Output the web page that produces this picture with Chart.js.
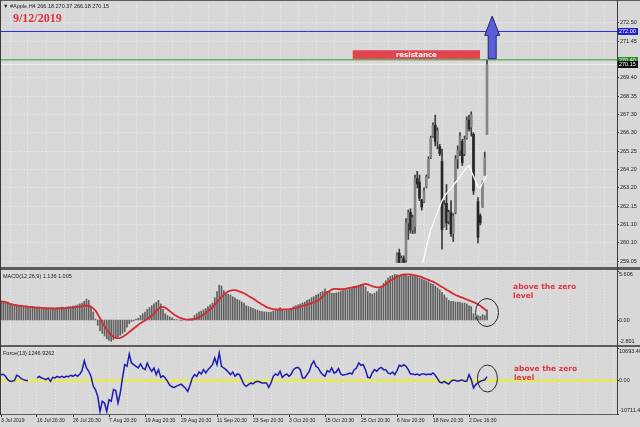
<!DOCTYPE html>
<html>
<head>
<meta charset="utf-8">
<script src="https://cdn.jsdelivr.net/npm/chart.js@4.4.1/dist/chart.umd.min.js"></script>
<style>
  html, body { margin:0; padding:0; width:640px; height:427px; overflow:hidden; background:#d8d8d8; }
  canvas { position:absolute; left:0; }
  .hb { position:absolute; left:0; width:640px; background:#5c5c5c; }
  .vl { position:absolute; width:1px; background:#3a3a3a; }
</style>
</head>
<body>
<canvas id="cMain" width="640" height="267" style="top:0px"></canvas>
<canvas id="cMacd" width="640" height="75" style="top:270px"></canvas>
<canvas id="cForce" width="640" height="80" style="top:347px"></canvas>
<div class="hb" style="top:0px;height:1px"></div>
<div class="hb" style="top:267px;height:3px"></div>
<div class="hb" style="top:345px;height:2px"></div>
<div class="hb" style="top:414px;height:1px;width:618px"></div>
<div class="vl" style="left:0px;top:0px;height:415px"></div>
<div class="vl" style="left:617px;top:0px;height:415px"></div>
<script>
// ================= DATA =================
const dateLabels = ['3 Jul 2019','16 Jul 20:30','26 Jul 20:30','7 Aug 20:30','19 Aug 20:30','29 Aug 20:30',
  '11 Sep 20:30','23 Sep 20:30','3 Oct 20:30','15 Oct 20:30','25 Oct 20:30','6 Nov 20:30','18 Nov 20:30','2 Dec 16:30'];
const barsPerLabel = 16;
const priceTicks = [259.05, 260.10, 261.10, 262.15, 263.20, 264.20, 265.25, 266.30, 267.30, 268.35, 269.40, 270.40, 271.45, 272.50];

const macdHist = [2.1,2.1,2.0,2.0, 1.8,1.75,1.7,1.7,1.65, 1.6,1.55,1.55,1.5,1.5,1.5,1.45,1.45,1.45,
  1.4,1.4,1.4,1.35,1.4,1.4,1.35,1.4,1.4,1.45,1.4,1.45, 1.5,1.5,1.55,1.6,1.7,1.8,1.9, 2.1,2.35,2.2, 1.5,0.9, 0.1,
  -0.6,-1.2,-1.5,-1.8,-2.1,-2.3,-2.4, -2.2,-2.0,-1.9,-1.7,-1.5,-1.3, -0.8,-0.4,-0.15, -0.1,0.1,0.2, 0.5,0.7,0.9,
  1.2,1.4,1.6,1.8,2.0,2.2, 1.8,1.2,0.7,0.5,0.35,0.25, 0.1,0.05,0.0,-0.05,0.0,0.05,0.1,0.15,0.2, 0.5,0.7,0.9,
  1.0,1.15,1.3,1.5,1.7,1.9, 2.5,3.2, 3.9,3.8, 3.3,3.0,2.9,2.8, 2.6,2.5,2.3,2.2,2.0,1.9, 1.6,1.5,1.4,1.3,1.2,1.1,
  1.0,0.95,0.9,0.9,0.85,0.9, 1.0,1.1,1.2,1.4,1.1,1.0,1.1,1.2,1.3, 1.5,1.6,1.7,1.8,1.9,2.0,
  2.2,2.3,2.5,2.6,2.8,2.9,3.1,3.2,3.5, 3.2,3.1,3.0,3.0,3.05,3.1, 3.2,3.3,3.35,3.4,3.5,3.6, 3.7,3.8,3.9,4.0,3.9,3.7,
  3.2,3.0,2.9,3.0,3.2, 3.5,3.8,4.1,4.4, 4.7,4.9,5.0, 5.1,5.1,5.0,5.1,5.0,5.0,4.9,5.0,4.9,4.9,4.8,
  4.7,4.6,4.5,4.4,4.3, 4.1,4.0,3.8,3.6,3.4, 3.1,2.8,2.5,2.2, 2.1,2.1,2.0,2.0,2.0,1.9, 1.9,1.8,1.6,1.5,
  0.7,0.3,0.5, 0.4,0.6,0.5,1.136];

const macdSignal = [2.1,2.05,2.0,1.9,1.8,1.75, 1.7,1.65,1.6,1.58,1.55,1.53,1.5,
  1.48,1.45,1.42,1.4,1.38,1.35,1.33,1.3,1.3,1.28, 1.28,1.28,1.3,1.3,1.32,1.33,1.35,1.35,1.38,1.4,1.45,
  1.48,1.5,1.55,1.6,1.62,1.6,
  1.5,1.3,1.05,0.65,0.2,-0.25,-0.7,-1.1,-1.4,-1.7,-1.9,-2.0,-2.05,-2.0,-1.9,-1.75,-1.55,-1.35,-1.15,-0.95,
  -0.75,-0.55,-0.35,-0.2,-0.05,0.1,0.3,0.5,0.75,1.0,
  1.25,1.42,1.48,1.4,1.2,1.0,0.8,0.6,0.45,0.3,0.2,0.12,0.06,0.04,0.04,0.05,
  0.1,0.18,0.3,0.45,0.6,0.8,1.0,1.2,1.45,1.7,2.0,2.3,2.6,2.85,3.05,3.2,3.3,3.35,3.35,3.3,3.2,3.1,3.0,2.85,
  2.7,2.55,2.4,2.25,2.05,1.9,1.75,1.6,1.45,1.35,1.27,
  1.22,1.2,1.18,1.18,1.18,1.18,1.2,1.22,1.25,1.3,1.35,1.42,1.5,1.58,1.65,1.72,1.8,
  1.9,2.0,2.1,2.2,2.4,2.65,2.9,3.1,3.25,3.4,3.5,3.5,3.45,3.45,3.45,3.5,3.55,3.6,3.65,3.7,3.75,3.8,3.9,4.0,
  4.05,4.0,3.9,3.8,3.7,3.65,3.65,3.7,3.85,4.0,4.2,4.4,4.55,4.7,4.85,4.95,5.05,5.1,5.12,5.12,5.1,5.05,5.0,
  4.95,4.88,4.8,4.7,4.6,4.5,4.4,4.3,4.15,4.0,3.85,3.7,3.55,3.4,3.25,3.1,2.95,2.8,2.7,2.6,2.5,2.4,2.3,2.2,
  2.1,2.0,1.9,1.75,1.6,1.4,1.2,1.005];

const forceIndex = [1860,2000,1330,270,-270,-270,0,1650,1330,600,270,0,0,
  null,null,null,
  800,1330,800,600,270,800,-270,1000,800,1330,1000,1330,1000,1330,1200,1650,1330,1860,1330,2000,
  3100,6300,3990,2930,1330,-1860,-2930,-5060,-9900,-6650,-7190,-9900,-6120,-6650,-2930,-3250,-7190,-4000,
  800,5060,4530,8460,5600,5060,4530,3990,5270,3990,3460,5600,3990,2930,3990,1860,3460,1000,1500,
  800,-270,-1500,-2000,-2200,-1800,-1500,-1200,-1800,-2500,-3500,-1500,
  800,1860,1330,2700,2080,3460,2400,3460,4200,5060,7190,5060,8780,4530,3990,3460,2700,1860,2700,1330,2080,
  1860,270,-1330,-1860,-1330,-800,-1120,-500,-270,-500,-800,-800,-800,-2200,-800,1330,2080,1650,2930,1000,
  1650,2080,1330,2080,3460,3990,4200,3460,800,800,1860,2930,5060,6200,4530,3990,2700,1860,
  1330,3150,2700,3990,2400,2700,3780,2080,1650,1860,2080,2400,2080,3460,3990,5600,4850,5060,3460,1000,800,
  2400,3460,2930,3780,4200,3460,3460,2400,2080,2700,1860,3150,4850,4530,5060,4530,3460,2080,2080,1860,2080,
  1650,2080,2080,1860,2080,1860,2400,1650,600,-500,-800,-270,-800,-1120,-270,160,0,-270,0,160,-270,-270,
  1860,270,-2400,-1330,-800,-270,0,160,1246.9262];

// candles (the earlier ones lie below the visible price range)
const candleFirstBar = 176;
const candleOpen  = [258.9,259.5,258.9,259.2,259.1,261.2,261.8,260.8,261.0,263.7,263.5,262.5,262.4,263.2,263.8,264.9,266.1,266.7,265.8,265.5,264.66,261.0,262.3,261.3,261.8,260.6,261.8,264.8,265.3,265.8,265.1,266.0,267.0,266.6,266.2,null,262.4,261.6,262.1,263.9,266.18];
const candleHigh  = [259.52,259.72,259.35,259.34,261.44,261.92,261.99,261.64,263.90,264.11,263.90,262.53,263.18,263.90,264.93,266.10,266.85,267.29,266.57,265.64,265.37,262.46,263.36,261.92,262.46,261.71,265.00,265.55,266.30,265.92,266.10,267.19,267.29,267.47,266.30,null,262.63,261.71,263.56,265.20,270.37];
const candleLow   = [258.79,258.79,258.70,258.79,258.97,260.27,260.62,260.60,260.62,263.18,262.46,261.92,262.35,263.18,263.72,264.82,266.03,265.55,265.37,265.00,259.72,260.98,260.82,261.15,260.44,260.16,261.71,264.27,265.00,264.45,265.00,265.92,266.37,266.10,262.81,null,260.07,261.09,262.08,263.90,266.18];
const candleClose = [259.4,258.9,259.2,258.95,261.2,261.8,260.8,261.5,263.7,263.4,262.6,262.1,263.0,263.8,264.8,266.0,266.7,265.8,266.4,265.1,260.82,262.2,261.2,261.8,260.6,261.6,264.8,265.3,266.1,264.6,265.9,267.0,266.5,267.3,263.0,null,260.4,261.2,263.4,264.9,270.15];

const trendFirstBar = 187;
const trendLine = [258.79,259.23,259.78,260.33,260.82,261.09,261.48,261.81,262.13,262.46,262.68,262.85,263.01,263.15,263.32,263.48,263.64,263.83,264.0,264.16,264.33,264.44,264.13,263.83,263.53,263.23,263.18,263.45,263.67,263.89];

const priceLevels = [272.00, 270.40, 270.15];
const forceLevels = [0];
const macdRange = [-2.801, 5.606];
const forceRange = [-10711.4, 10693.40];

const headerText = '\u25BC #Apple,H4 266.18 270.37 266.18 270.15';
const dateTitle = '9/12/2019';
const macdTitle = 'MACD(12,26,9) 1.136 1.005';
const forceTitle = 'Force(13) 1246.9262';
const noteLines = ['above the zero', 'level'];
const resistanceLabel = 'resistance';
const macdAxisLabels = ['5.606', '0.00', '-2.801'];
const forceAxisLabels = ['10693.40', '0.00', '-10711.4'];

// annotation anchors (bar index / value units)
const resistanceZone = { fromBar: 156.3, toBar: 212.9, low: 270.45, high: 270.94 };
const arrowMark = { bar: 218.3, base: 270.46, headBase: 271.78, tip: 272.87 };
const macdCircle = { bar: 216, value: 0.84 };
const forceCircle = { bar: 216.2, value: 630 };
const macdNote = { bar: 227.6, value: 3.64 };
const forceNote = { bar: 228.0, value: 3505 };

// ================= LAYOUT / STYLE =================
const FONT = '"Liberation Sans", Arial, sans-serif';
const PX_PER_BAR = 2.25, PLOT_RIGHT = 617, AXIS_W = 640 - PLOT_RIGHT;
const X_MIN = -1 / PX_PER_BAR, X_MAX = X_MIN + PLOT_RIGHT / PX_PER_BAR;
const P_MIN = 258.957, P_MAX = 273.532;
const GRID = 'rgba(255,255,255,0.55)';
const levelStyles = [
  { line: '#2b2bd0', box: '#2323d0', text: '#ffffff', w: 1 },
  { line: '#2f9a2f', box: '#2c8c2c', text: '#f0fff0', w: 1 },
  { line: 'rgba(250,250,250,0.85)', box: '#0c0c0c', text: '#ffffff', w: 1 }
];

function xScale(showLabels) {
  return {
    type: 'linear', min: X_MIN, max: X_MAX, offset: false,
    afterBuildTicks: s => { const t = []; for (let v = 0; v <= X_MAX; v += barsPerLabel / 2) t.push({ value: v }); s.ticks = t; },
    grid: {
      color: GRID, lineWidth: 1, drawTicks: showLabels, tickLength: 3,
      tickColor: c => (c.tick && c.tick.value % barsPerLabel === 0 && c.tick.value / barsPerLabel < dateLabels.length) ? '#333' : 'rgba(0,0,0,0)'
    },
    border: { display: false, dash: [1, 2] },
    ticks: showLabels ? {
      display: true, autoSkip: false, maxRotation: 0, minRotation: 0, align: 'start', padding: 1,
      font: { family: FONT, size: 5.1 }, color: '#1a1a1a',
      callback: v => (v % barsPerLabel === 0 && v / barsPerLabel < dateLabels.length) ? dateLabels[v / barsPerLabel] : ''
    } : { display: false },
    afterFit: s => { s.height = showLabels ? 13 : 0; }
  };
}
function hiddenY(range) {
  return {
    position: 'right', min: range[0], max: range[1],
    ticks: { display: false }, grid: { display: false }, border: { display: false },
    afterFit: s => { s.width = AXIS_W; }
  };
}
const baseOpts = {
  responsive: false, animation: false, devicePixelRatio: 1, events: [],
  plugins: { legend: { display: false }, tooltip: { enabled: false } }
};

function drawAxisLabels(chart, values, texts) {
  const { ctx, chartArea: ca, scales: { y } } = chart;
  ctx.save();
  ctx.font = '5.5px ' + FONT; ctx.fillStyle = '#1a1a1a'; ctx.textAlign = 'left'; ctx.textBaseline = 'middle';
  ctx.strokeStyle = '#333'; ctx.lineWidth = 1;
  values.forEach((v, k) => {
    let py = y.getPixelForValue(v);
    const dy = k === 0 ? 4 : (k === values.length - 1 ? -4 : 0);
    const tp = Math.round(Math.min(Math.max(py, ca.top + 0.5), ca.bottom - 0.5)) + 0.5;
    ctx.beginPath(); ctx.moveTo(PLOT_RIGHT, tp); ctx.lineTo(PLOT_RIGHT + 2, tp); ctx.stroke();
    ctx.fillText(texts[k], PLOT_RIGHT + 2, py + dy);
  });
  ctx.restore();
}
function drawNote(chart, anchor, circle, rx, ry) {
  const { ctx, scales: { x, y } } = chart;
  ctx.save();
  ctx.beginPath();
  ctx.ellipse(x.getPixelForValue(circle.bar), y.getPixelForValue(circle.value), rx, ry, 0, 0, Math.PI * 2);
  ctx.strokeStyle = '#262626'; ctx.lineWidth = 1; ctx.stroke();
  ctx.font = 'bold 7.5px "DejaVu Sans", sans-serif'; ctx.fillStyle = '#e0343f';
  ctx.textAlign = 'left'; ctx.textBaseline = 'middle';
  const nx = x.getPixelForValue(anchor.bar), ny = y.getPixelForValue(anchor.value);
  ctx.fillText(noteLines[0], nx, ny);
  ctx.fillText(noteLines[1], nx, ny + 8.5);
  ctx.restore();
}

// ================= MAIN PRICE CHART =================
const wickData = [], bodyData = [], bodyColors = [];
candleOpen.forEach((o, k) => {
  if (o == null) return;
  const i = candleFirstBar + k;
  wickData.push({ x: i, y: [candleLow[k], candleHigh[k]] });
  bodyData.push({ x: i, y: [o, candleClose[k]] });
  bodyColors.push(candleClose[k] >= o ? '#858585' : '#262626');
});
const trendData = trendLine.map((v, k) => ({ x: trendFirstBar + k, y: v }));
const levelSets = priceLevels.map((p, k) => ({
  type: 'line', data: [{ x: X_MIN, y: p }, { x: X_MAX, y: p }],
  borderColor: levelStyles[k].line, borderWidth: levelStyles[k].w, pointRadius: 0, order: 10 + k
}));

const mainDeco = {
  id: 'mainDeco',
  afterDatasetsDraw(chart) {
    const { ctx, scales: { x, y } } = chart;
    ctx.save();
    const r = resistanceZone;
    const x0 = x.getPixelForValue(r.fromBar), x1 = x.getPixelForValue(r.toBar);
    const y0 = y.getPixelForValue(r.high), y1 = y.getPixelForValue(r.low);
    ctx.fillStyle = '#e2444f'; ctx.fillRect(x0, y0, x1 - x0, y1 - y0);
    ctx.fillStyle = '#ffffff'; ctx.font = 'bold 7px "DejaVu Sans", sans-serif';
    ctx.textAlign = 'center'; ctx.textBaseline = 'middle';
    ctx.fillText(resistanceLabel, (x0 + x1) / 2, (y0 + y1) / 2 + 0.5);
    const a = arrowMark;
    const ax = x.getPixelForValue(a.bar), yb = y.getPixelForValue(a.base), yh = y.getPixelForValue(a.headBase), yt = y.getPixelForValue(a.tip);
    ctx.beginPath();
    ctx.moveTo(ax - 4, yb); ctx.lineTo(ax - 4, yh); ctx.lineTo(ax - 7.5, yh); ctx.lineTo(ax, yt);
    ctx.lineTo(ax + 7.5, yh); ctx.lineTo(ax + 4, yh); ctx.lineTo(ax + 4, yb); ctx.closePath();
    ctx.fillStyle = '#5a5ed6'; ctx.fill(); ctx.strokeStyle = '#23236e'; ctx.lineWidth = 1; ctx.stroke();
    ctx.restore();
  },
  afterDraw(chart) {
    const { ctx, scales: { y } } = chart;
    ctx.save();
    ctx.font = '5.5px ' + FONT; ctx.textAlign = 'left'; ctx.textBaseline = 'middle';
    priceLevels.forEach((p, k) => {
      const py = y.getPixelForValue(p);
      ctx.fillStyle = levelStyles[k].box; ctx.fillRect(PLOT_RIGHT + 1, Math.round(py) - 3, 20, 7);
      ctx.fillStyle = levelStyles[k].text; ctx.fillText(p.toFixed(2), PLOT_RIGHT + 2, Math.round(py) + 0.5);
    });
    ctx.fillStyle = '#1a1a1a'; ctx.font = '5.5px ' + FONT;
    ctx.fillText(headerText, 3, 6);
    ctx.fillStyle = '#df3140'; ctx.font = 'bold 12px "Liberation Serif", "Times New Roman", serif';
    ctx.textBaseline = 'alphabetic';
    ctx.fillText(dateTitle, 13, 22);
    ctx.restore();
  }
};

new Chart(document.getElementById('cMain'), {
  type: 'bar',
  data: {
    datasets: [
      { type: 'line', data: trendData, borderColor: '#ffffff', borderWidth: 1.3, pointRadius: 0, order: 0 },
      { type: 'bar', data: bodyData, backgroundColor: bodyColors, barThickness: 2, grouped: false, minBarLength: 1, order: 1 },
      { type: 'bar', data: wickData, backgroundColor: '#3a3a3a', barThickness: 1, grouped: false, order: 2 },
      ...levelSets
    ]
  },
  options: Object.assign({}, baseOpts, {
    layout: { padding: { top: 1, left: 0, right: 0, bottom: 0 } },
    scales: {
      x: xScale(false),
      y: {
        position: 'right', min: P_MIN, max: P_MAX,
        afterBuildTicks: s => { s.ticks = priceTicks.map(v => ({ value: v })); },
        ticks: { autoSkip: false, font: { family: FONT, size: 5.5 }, color: '#1a1a1a', padding: 1, callback: v => Number(v).toFixed(2) },
        grid: { color: GRID, tickLength: 2, tickColor: '#333' },
        border: { display: false, dash: [1, 2] },
        afterFit: s => { s.width = AXIS_W; }
      }
    }
  }),
  plugins: [mainDeco]
});

// ================= MACD =================
new Chart(document.getElementById('cMacd'), {
  type: 'bar',
  data: {
    datasets: [
      { type: 'line', data: macdSignal.map((v, i) => ({ x: i, y: v })), borderColor: '#d42a30', borderWidth: 1.8, pointRadius: 0, order: 0 },
      { type: 'bar', data: macdHist.map((v, i) => ({ x: i, y: v })), backgroundColor: '#5f5f5f', barThickness: 1, grouped: false, order: 1 }
    ]
  },
  options: Object.assign({}, baseOpts, {
    layout: { padding: 0 },
    scales: { x: xScale(false), y: hiddenY(macdRange) }
  }),
  plugins: [{
    id: 'macdDeco',
    afterDraw(chart) {
      const { ctx, chartArea: ca } = chart;
      ctx.save(); ctx.font = '5.5px ' + FONT; ctx.fillStyle = '#1a1a1a'; ctx.textBaseline = 'middle';
      ctx.fillText(macdTitle, 3, ca.top + 6); ctx.restore();
      drawAxisLabels(chart, [macdRange[1], 0, macdRange[0]], macdAxisLabels);
      drawNote(chart, macdNote, macdCircle, 11.5, 14);
    }
  }]
});

// ================= FORCE INDEX =================
new Chart(document.getElementById('cForce'), {
  type: 'line',
  data: {
    datasets: [
      { data: forceIndex.map((v, i) => ({ x: i, y: v })), borderColor: '#1c1cb4', borderWidth: 1.5, pointRadius: 0, spanGaps: false, order: 0 },
      ...forceLevels.map(l => ({ data: [{ x: X_MIN, y: l }, { x: X_MAX, y: l }], borderColor: '#eeee30', borderWidth: 2, pointRadius: 0, order: 1 }))
    ]
  },
  options: Object.assign({}, baseOpts, {
    layout: { padding: 0 },
    scales: { x: xScale(true), y: hiddenY(forceRange) }
  }),
  plugins: [{
    id: 'forceDeco',
    afterDraw(chart) {
      const { ctx, chartArea: ca } = chart;
      ctx.save(); ctx.font = '5.5px ' + FONT; ctx.fillStyle = '#1a1a1a'; ctx.textBaseline = 'middle';
      ctx.fillText(forceTitle, 3, ca.top + 6); ctx.restore();
      drawAxisLabels(chart, [forceRange[1], 0, forceRange[0]], forceAxisLabels);
      drawNote(chart, forceNote, forceCircle, 10, 13.5);
    }
  }]
});
</script>
</body>
</html>
